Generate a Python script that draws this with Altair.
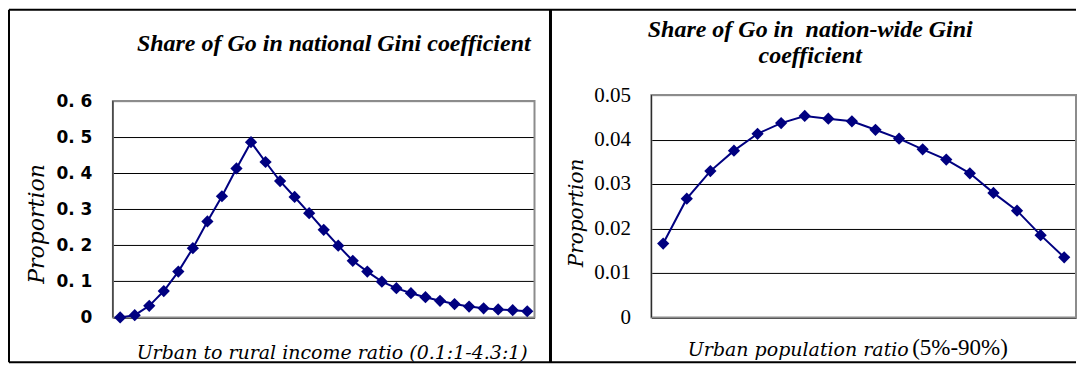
import altair as alt
import pandas as pd

# ---- data ----
income_ratio = [0.1, 0.25, 0.4, 0.55, 0.7, 0.85, 1.0, 1.15, 1.3, 1.45, 1.6, 1.75, 1.9, 2.05,
                2.2, 2.35, 2.5, 2.65, 2.8, 2.95, 3.1, 3.25, 3.4, 3.55, 3.7, 3.85, 4.0, 4.15, 4.3]
income_share = [0.000, 0.006, 0.032, 0.073, 0.127, 0.192, 0.266, 0.336, 0.413, 0.486,
                0.431, 0.378, 0.334, 0.289, 0.243, 0.199, 0.157, 0.127, 0.099, 0.081,
                0.067, 0.056, 0.046, 0.037, 0.030, 0.025, 0.022, 0.020, 0.017]

urban_pct = [5, 10, 15, 20, 25, 30, 35, 40, 45, 50, 55, 60, 65, 70, 75, 80, 85, 90]
urban_share = [0.0166, 0.0267, 0.0329, 0.0375, 0.0413, 0.0437, 0.0453, 0.0447, 0.0441,
               0.0422, 0.0402, 0.0378, 0.0355, 0.0324, 0.0280, 0.0240, 0.0185, 0.0135]

left_ticks = [0, 0.1, 0.2, 0.3, 0.4, 0.5, 0.6]
right_ticks = [0, 0.01, 0.02, 0.03, 0.04, 0.05]

left_title = "Share of Go in national Gini coefficient"
right_title = ["Share of Go in\u00a0 nation-wide Gini", "coefficient"]
left_xtitle = "Urban to rural income ratio (0.1:1-4.3:1)"
right_xtitle = "Urban population ratio"
right_xtitle_extra = "(5%-90%)"
ytitle = "Proportion"

# ---- layout ----
W1, W2, H = 422, 425, 222.5
LEFT_TOP = 0.6 * H / 216.5
NAVY = "#000080"
one = pd.DataFrame({"k": [0]})

df1 = pd.DataFrame({"ratio": income_ratio, "share": income_share})
df2 = pd.DataFrame({"pct": urban_pct, "share": urban_share})

title_font = dict(font="Liberation Serif", fontSize=24, fontWeight="bold", fontStyle="italic")


def panel(df, xfield, width, ydomain, ticks, top, label_expr, label_font, label_size,
          label_weight, xtitle, xtitle_x, xtitle_y, xtitle_size, xtitle_align,
          ytitle_x, ytitle_y, ytitle_size):
    base = alt.Chart(df)
    x = alt.X(f"{xfield}:O", scale=alt.Scale(padding=0.5),
              axis=alt.Axis(labels=False, ticks=False, domain=False, grid=False,
                            title=xtitle, titleX=xtitle_x, titleY=xtitle_y,
                            titleAlign=xtitle_align, titleBaseline="middle",
                            titleFont="DejaVu Serif", titleFontStyle="italic",
                            titleFontWeight="normal", titleFontSize=xtitle_size,
                            titleColor="black"))
    yaxis = alt.Axis(values=ticks, grid=True, gridColor="black", gridWidth=1,
                     gridOpacity=1, ticks=False, domain=False, labelOverlap=False,
                     labelExpr=label_expr, labelFont=label_font,
                     labelFontSize=label_size, labelFontWeight=label_weight,
                     labelColor="black", labelPadding=21,
                     title=ytitle, titleX=ytitle_x, titleY=ytitle_y,
                     titleAngle=270, titleAlign="center", titleBaseline="middle",
                     titleFont="DejaVu Serif", titleFontStyle="italic",
                     titleFontWeight="normal", titleFontSize=ytitle_size,
                     titleColor="black")
    yscale = alt.Scale(domain=ydomain, nice=False, zero=True)
    y = alt.Y("share:Q", scale=yscale, axis=yaxis)
    line = base.mark_line(color=NAVY, strokeWidth=2).encode(x=x, y=y)
    pts = base.mark_point(shape="diamond", filled=True, size=150, color=NAVY,
                          opacity=1).encode(x=x, y=y)
    border = alt.Chart(one).mark_rect(fill=None, stroke="#8c8c8c", strokeWidth=2).encode(
        x=alt.value(0), x2=alt.value(width),
        y=alt.Y(datum=top, type="quantitative", scale=yscale, axis=yaxis),
        y2=alt.Y2(datum=0))
    yline = alt.Chart(one).mark_rule(color="#222222", strokeWidth=1).encode(
        x=alt.value(0),
        y=alt.Y(datum=0, type="quantitative", scale=yscale, axis=yaxis),
        y2=alt.Y2(datum=top))
    return [border, yline, line, pts]


left_layers = panel(df1, "ratio", W1, [0, LEFT_TOP], left_ticks, 0.6,
                    "datum.value == 0 ? '0' : replace(format(datum.value, '.1f'), '.', '. ')",
                    "DejaVu Sans", 17, "bold", left_xtitle, 219, 35, 19, "center",
                    -76, 128.5, 22)
right_layers = panel(df2, "pct", W2, [0, 0.05], right_ticks, 0.05,
                     "datum.value == 0 ? '0' : format(datum.value, '.2f')",
                     "Liberation Serif", 21, "normal", right_xtitle, 36, 32, 19, "left",
                     -75, 117.5, 20)

# frame lines and titles
frame = [
    alt.Chart(one).mark_rule(color="black", strokeWidth=2).encode(
        x=alt.value(-104), x2=alt.value(964), y=alt.value(-85.5)),
    alt.Chart(one).mark_rule(color="black", strokeWidth=2).encode(
        x=alt.value(-104), x2=alt.value(964), y=alt.value(267.5)),
    alt.Chart(one).mark_rule(color="black", strokeWidth=2).encode(
        x=alt.value(-104), y=alt.value(-85.5), y2=alt.value(267.5)),
    alt.Chart(one).mark_rule(color="black", strokeWidth=3).encode(
        x=alt.value(438), y=alt.value(-85.5), y2=alt.value(267.5)),
]
t_left = alt.Chart(one).mark_text(text=left_title, align="left", baseline="middle",
                                  color="black", **title_font).encode(
    x=alt.value(24), y=alt.value(-51.5))
t_right1 = alt.Chart(one).mark_text(text=right_title[0], align="center", baseline="middle",
                                    color="black", **title_font).encode(
    x=alt.value(159), y=alt.value(-65.5))
t_right2 = alt.Chart(one).mark_text(text=right_title[1], align="center", baseline="middle",
                                    color="black", **title_font).encode(
    x=alt.value(159), y=alt.value(-39.5))
t_extra = alt.Chart(one).mark_text(text=right_xtitle_extra, align="left", baseline="middle",
                                   color="black", font="Liberation Serif", fontSize=23).encode(
    x=alt.value(261), y=alt.value(H + 31))

left = alt.layer(*frame, *left_layers, t_left).properties(width=W1, height=H)
right = alt.layer(*right_layers, t_right1, t_right2, t_extra).properties(width=W2, height=H)

chart = alt.hconcat(left, right, spacing=117, bounds="flush").properties(
    padding=0, background="white").configure_view(stroke=None)

chart.save("out.html", embed_options={"renderer": "svg", "actions": False})
